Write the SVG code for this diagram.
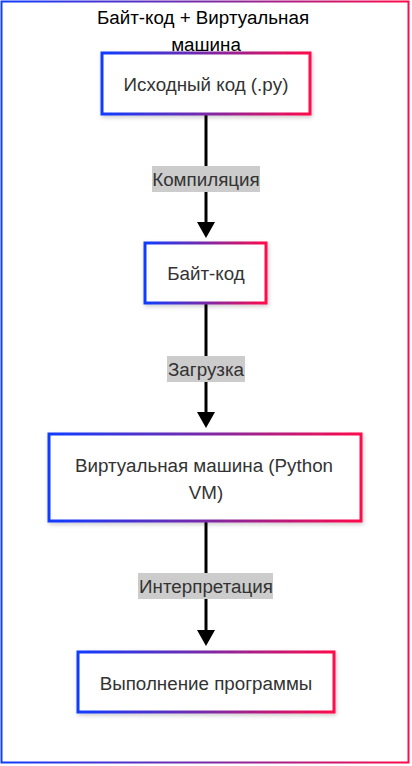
<svg xmlns="http://www.w3.org/2000/svg" width="412" height="766" viewBox="0 0 412 766">
<defs>
<linearGradient id="g" x1="0" y1="0" x2="1" y2="0">
<stop offset="0" stop-color="#0f3cff"/>
<stop offset="0.5" stop-color="#7a2aa8"/>
<stop offset="1" stop-color="#ff0a4a"/>
</linearGradient>
<filter id="sh" x="-10%" y="-10%" width="120%" height="130%">
<feDropShadow dx="1" dy="2" stdDeviation="2" flood-color="#000" flood-opacity="0.2"/>
</filter>
<style>
.node rect{fill:#fff;stroke:url(#g);stroke-width:3;filter:url(#sh)}
.node text{font-family:"Liberation Sans",Arial,sans-serif;font-size:18.8px;fill:#333;text-anchor:middle}
.edge{stroke:#000;stroke-width:3;fill:none}
.lbl rect{fill:#ccc}
.lbl text{font-family:"Liberation Sans",Arial,sans-serif;font-size:18.8px;fill:#333;text-anchor:middle}
.title{font-family:"Liberation Sans",Arial,sans-serif;font-size:18.8px;fill:#000;text-anchor:middle}
</style>
</defs>
<rect x="1.5" y="1.5" width="407" height="761" fill="none" stroke="url(#g)" stroke-width="2"/>
<text class="title" x="203" y="24">Байт-код + Виртуальная</text>
<text class="title" x="206" y="51">машина</text>
<g id="connectors">
<line class="edge" x1="206" y1="115" x2="206" y2="222"/>
<path d="M197,222 L215,222 L206,238 z" fill="#000"/>
<line class="edge" x1="206" y1="304" x2="206" y2="412"/>
<path d="M197,412 L215,412 L206,428 z" fill="#000"/>
<line class="edge" x1="206" y1="522" x2="206" y2="630"/>
<path d="M197,630 L215,630 L206,646 z" fill="#000"/>
<g class="lbl"><rect x="152" y="166" width="108" height="26"/><text x="206" y="186">Компиляция</text></g>
<g class="lbl"><rect x="167" y="356" width="78" height="26"/><text x="206" y="376">Загрузка</text></g>
<g class="lbl"><rect x="138" y="573" width="135" height="26"/><text x="206" y="593">Интерпретация</text></g>
</g>
<g id="n1" class="node"><rect x="102" y="53" width="208" height="61"/><text x="206" y="91">Исходный код (.py)</text></g>
<g id="n2" class="node"><rect x="145" y="243" width="121" height="60"/><text x="206" y="280">Байт-код</text></g>
<g id="n3" class="node"><rect x="49" y="434" width="312" height="87"/><text x="204" y="472">Виртуальная машина (Python</text><text x="206" y="499">VM)</text></g>
<g id="n4" class="node"><rect x="78" y="652" width="256" height="60"/><text x="206" y="690">Выполнение программы</text></g>
</svg>
